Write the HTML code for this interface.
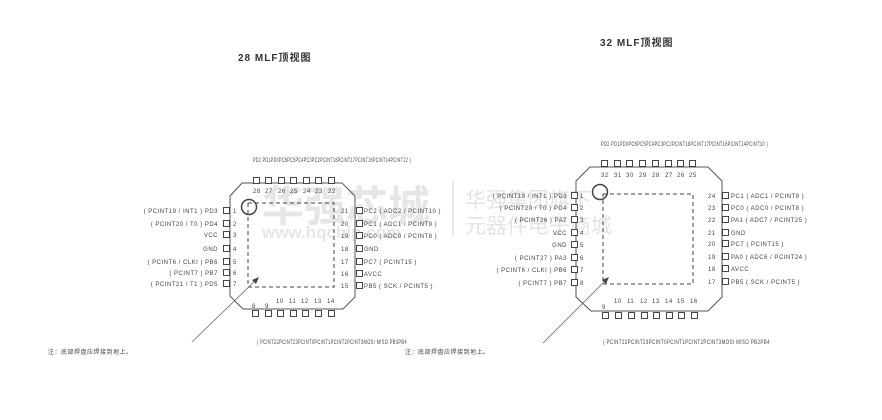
<!DOCTYPE html>
<html><head><meta charset="utf-8"><style>
html,body{margin:0;padding:0;background:#fff;}
svg{display:block;}
text{font-family:"Liberation Sans","Noto Sans CJK SC",sans-serif;fill:#444;}
.s{font-size:6px;letter-spacing:0.5px;}
.wm{fill:#e6e6e6;font-weight:bold;}
.wm2{fill:#e3e3e3;}
.t{font-size:10px;font-weight:bold;letter-spacing:1px;}
</style></head><body>
<svg width="882" height="420" viewBox="0 0 882 420" xmlns="http://www.w3.org/2000/svg">
<text x="262" y="221" class="wm" font-size="42" style="font-family:'Noto Sans CJK SC',sans-serif">华强芯城</text>
<text x="262" y="238" class="wm" font-size="17" style="font-family:'Liberation Sans',sans-serif">www.hqchip.com</text>
<line x1="453" y1="181" x2="453" y2="236" stroke="#e3e3e3" stroke-width="1.5"/>
<text x="465" y="207" class="wm2" font-size="21" style="font-family:'Noto Sans CJK SC',sans-serif">华强集团旗下</text>
<text x="465" y="233" class="wm2" font-size="21" style="font-family:'Noto Sans CJK SC',sans-serif">元器件电子商城</text>

<text x="238" y="61" class="t" style="fill:#333">28 MLF顶视图</text>
<text x="600" y="46" class="t" style="fill:#333">32 MLF顶视图</text>

<polygon points="242,183 342,183 355,196 355,297 343,309 243,309 230,296 230,196" fill="none" stroke="#555" stroke-width="1"/>
<rect x="248" y="203" width="86" height="84" fill="none" stroke="#444" stroke-dasharray="4,3"/>
<circle cx="249" cy="207" r="7.5" fill="none" stroke="#444" stroke-width="1.5"/>
<line x1="192" y1="342" x2="257" y2="279" stroke="#666" stroke-width="0.8"/>
<polygon points="259,277 252,280 256,284" fill="#444"/>
<g fill="#fff" stroke="#333" stroke-width="0.9">
<rect x="253.5" y="177.5" width="6" height="6"/><rect x="265.5" y="177.5" width="6" height="6"/><rect x="278.5" y="177.5" width="6" height="6"/><rect x="290.5" y="177.5" width="6" height="6"/><rect x="303.5" y="177.5" width="6" height="6"/><rect x="315.5" y="177.5" width="6" height="6"/><rect x="328.5" y="177.5" width="6" height="6"/>
<rect x="252.5" y="310.5" width="6" height="6"/><rect x="265.5" y="310.5" width="6" height="6"/><rect x="277.5" y="310.5" width="6" height="6"/><rect x="290.5" y="310.5" width="6" height="6"/><rect x="302.5" y="310.5" width="6" height="6"/><rect x="315.5" y="310.5" width="6" height="6"/><rect x="328.5" y="310.5" width="6" height="6"/>
<rect x="223.5" y="207.5" width="6" height="6"/><rect x="223.5" y="220.5" width="6" height="6"/><rect x="223.5" y="231.5" width="6" height="6"/><rect x="223.5" y="245.5" width="6" height="6"/><rect x="223.5" y="258.5" width="6" height="6"/><rect x="223.5" y="269.5" width="6" height="6"/><rect x="223.5" y="280.5" width="6" height="6"/>
<rect x="356.5" y="207.5" width="6" height="6"/><rect x="356.5" y="220.5" width="6" height="6"/><rect x="356.5" y="232.5" width="6" height="6"/><rect x="356.5" y="245.5" width="6" height="6"/><rect x="356.5" y="258.5" width="6" height="6"/><rect x="356.5" y="270.5" width="6" height="6"/><rect x="356.5" y="282.5" width="6" height="6"/>
</g>
<g class="s">
<text x="253" y="193">28</text><text x="265" y="193">27</text><text x="278" y="193">26</text><text x="290" y="193">25</text><text x="303" y="193">24</text><text x="315" y="193">23</text><text x="328" y="193">22</text>
<text x="252" y="308">8</text><text x="265" y="308">9</text><text x="276" y="303">10</text><text x="289" y="303">11</text><text x="301" y="303">12</text><text x="314" y="303">13</text><text x="327" y="303">14</text>
<text x="233" y="213">1</text><text x="233" y="226">2</text><text x="233" y="237">3</text><text x="233" y="251">4</text><text x="233" y="264">5</text><text x="233" y="275">6</text><text x="233" y="286">7</text>
<text x="341" y="213">21</text><text x="341" y="226">20</text><text x="341" y="238">19</text><text x="341" y="251">18</text><text x="341" y="264">17</text><text x="341" y="276">16</text><text x="341" y="288">15</text>
<g text-anchor="end">
<text x="218" y="213">( PCINT19 / INT1 )  PD3</text>
<text x="218" y="226">( PCINT20 / T0 )  PD4</text>
<text x="218" y="237">VCC</text>
<text x="218" y="251">GND</text>
<text x="218" y="264">( PCINT6 / CLKI )  PB6</text>
<text x="218" y="275">( PCINT7 )  PB7</text>
<text x="218" y="286">( PCINT21 / T1 )  PD5</text>
</g>
<text x="364" y="213">PC2  ( ADC2 / PCINT10 )</text>
<text x="364" y="226">PC1  ( ADC1 / PCINT9 )</text>
<text x="364" y="238">PC0  ( ADC0 / PCINT8 )</text>
<text x="364" y="251">GND</text>
<text x="364" y="264">PC7  ( PCINT15 )</text>
<text x="364" y="276">AVCC</text>
<text x="364" y="288">PB5  ( SCK / PCINT5 )</text>
<text x="253" y="162" textLength="158" lengthAdjust="spacingAndGlyphs">PD2 PD1PD0PC6PC5PC4PC3PC2PCINT18PCINT17PCINT16PCINT14PCINT12 )</text>
<text x="257" y="344" textLength="150" lengthAdjust="spacingAndGlyphs">( PCINT22PCINT23PCINT0PCINT1PCINT2PCINT3MOSI MISO PB3PB4</text>
</g>
<text x="48" y="354" class="s">注：底部焊盘应焊接到地上。</text>

<polygon points="590,167 708,167 722,181 722,297 708,311 591,311 576,297 576,181" fill="none" stroke="#555" stroke-width="1"/>
<rect x="603" y="194" width="90" height="90" fill="none" stroke="#444" stroke-dasharray="4,3"/>
<circle cx="600" cy="192" r="7.5" fill="none" stroke="#444" stroke-width="1.5"/>
<line x1="543" y1="343" x2="607" y2="279" stroke="#666" stroke-width="0.8"/>
<polygon points="609,277 602,280 606,284" fill="#444"/>
<g fill="#fff" stroke="#333" stroke-width="0.9">
<rect x="601.5" y="160.5" width="6" height="6"/><rect x="614.5" y="160.5" width="6" height="6"/><rect x="626.5" y="160.5" width="6" height="6"/><rect x="639.5" y="160.5" width="6" height="6"/><rect x="652.5" y="160.5" width="6" height="6"/><rect x="665.5" y="160.5" width="6" height="6"/><rect x="677.5" y="160.5" width="6" height="6"/><rect x="689.5" y="160.5" width="6" height="6"/>
<rect x="602.5" y="312.5" width="6" height="6"/><rect x="615.5" y="312.5" width="6" height="6"/><rect x="628.5" y="312.5" width="6" height="6"/><rect x="641.5" y="312.5" width="6" height="6"/><rect x="653.5" y="312.5" width="6" height="6"/><rect x="666.5" y="312.5" width="6" height="6"/><rect x="678.5" y="312.5" width="6" height="6"/><rect x="691.5" y="312.5" width="6" height="6"/>
<rect x="571.5" y="192.5" width="6" height="6"/><rect x="571.5" y="204.5" width="6" height="6"/><rect x="571.5" y="216.5" width="6" height="6"/><rect x="571.5" y="229.5" width="6" height="6"/><rect x="571.5" y="241.5" width="6" height="6"/><rect x="571.5" y="254.5" width="6" height="6"/><rect x="571.5" y="266.5" width="6" height="6"/><rect x="571.5" y="279.5" width="6" height="6"/>
<rect x="722.5" y="192.5" width="6" height="6"/><rect x="722.5" y="204.5" width="6" height="6"/><rect x="722.5" y="216.5" width="6" height="6"/><rect x="722.5" y="229.5" width="6" height="6"/><rect x="722.5" y="240.5" width="6" height="6"/><rect x="722.5" y="253.5" width="6" height="6"/><rect x="722.5" y="265.5" width="6" height="6"/><rect x="722.5" y="278.5" width="6" height="6"/>
</g>
<g class="s">
<text x="601" y="177">32</text><text x="614" y="177">31</text><text x="626" y="177">30</text><text x="639" y="177">29</text><text x="652" y="177">28</text><text x="665" y="177">27</text><text x="677" y="177">26</text><text x="689" y="177">25</text>
<text x="602" y="309">9</text><text x="614" y="303">10</text><text x="627" y="303">11</text><text x="640" y="303">12</text><text x="652" y="303">13</text><text x="665" y="303">14</text><text x="677" y="303">15</text><text x="690" y="303">16</text>
<text x="580" y="198">1</text><text x="580" y="210">2</text><text x="580" y="222">3</text><text x="580" y="235">4</text><text x="580" y="247">5</text><text x="580" y="260">6</text><text x="580" y="272">7</text><text x="580" y="285">8</text>
<text x="708" y="198">24</text><text x="708" y="210">23</text><text x="708" y="222">22</text><text x="708" y="235">21</text><text x="708" y="246">20</text><text x="708" y="259">19</text><text x="708" y="271">18</text><text x="708" y="284">17</text>
<g text-anchor="end">
<text x="567" y="198">( PCINT19 / INT1 )  PD3</text>
<text x="567" y="210">( PCINT20 / T0 )  PD4</text>
<text x="567" y="222">( PCINT26 )  PA2</text>
<text x="567" y="235">VCC</text>
<text x="567" y="247">GND</text>
<text x="567" y="260">( PCINT27 )  PA3</text>
<text x="567" y="272">( PCINT6 / CLKI )  PB6</text>
<text x="567" y="285">( PCINT7 )  PB7</text>
</g>
<text x="731" y="198">PC1  ( ADC1 / PCINT9 )</text>
<text x="731" y="210">PC0  ( ADC0 / PCINT8 )</text>
<text x="731" y="222">PA1  ( ADC7 / PCINT25 )</text>
<text x="731" y="235">GND</text>
<text x="731" y="246">PC7  ( PCINT15 )</text>
<text x="731" y="259">PA0  ( ADC6 / PCINT24 )</text>
<text x="731" y="271">AVCC</text>
<text x="731" y="284">PB5  ( SCK / PCINT5 )</text>
<text x="601" y="146" textLength="167" lengthAdjust="spacingAndGlyphs">PD2 PD1PD0PC6PC5PC4PC3PC2PCINT18PCINT17PCINT16PCINT14PCINT10 )</text>
<text x="603" y="344" textLength="167" lengthAdjust="spacingAndGlyphs">( PCINT22PCINT23PCINT0PCINT1PCINT2PCINT3MOSI MISO PB2PB4</text>
</g>
<text x="405" y="354" class="s">注：底部焊盘应焊接到地上。</text>
</svg>
</body></html>
